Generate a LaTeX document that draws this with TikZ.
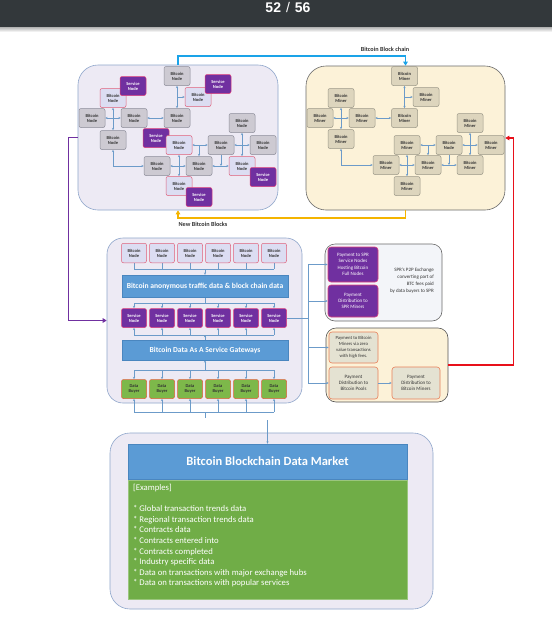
\documentclass[tikz,border=0pt]{standalone}
\usepackage{fontspec}
\setmainfont{Carlito}
\newfontfamily\barfont{Liberation Sans}
\usetikzlibrary{arrows.meta,calc}
\pgfdeclarelayer{back}\pgfdeclarelayer{lines}
\pgfsetlayers{back,lines,main}
\definecolor{lav}{HTML}{EDEAF4}
\definecolor{lavdraw}{HTML}{8FA6CB}
\definecolor{cream}{HTML}{FCF2D8}
\definecolor{darkb}{HTML}{6A6A6A}
\definecolor{gnode}{HTML}{CDCAD2}
\definecolor{gdraw}{HTML}{8C8C99}
\definecolor{pfill}{HTML}{DCDDF2}
\definecolor{pdraw}{HTML}{E0607A}
\definecolor{purp}{HTML}{7030A0}
\definecolor{sdraw}{HTML}{E0407A}
\definecolor{mfill}{HTML}{DDD5BD}
\definecolor{mdraw}{HTML}{9B9888}
\definecolor{cnc}{HTML}{6C9BC9}
\definecolor{bban}{HTML}{5B9BD5}
\definecolor{bbandraw}{HTML}{4A86BF}
\definecolor{grn}{HTML}{70AD47}
\definecolor{dfill}{HTML}{7DB84A}
\definecolor{ddraw}{HTML}{E0603A}
\definecolor{qfill}{HTML}{E4E2D2}
\definecolor{qdraw}{HTML}{E8805A}
\definecolor{sprfill}{HTML}{F3F5F9}
\definecolor{txt}{HTML}{333333}
\definecolor{barc}{HTML}{33383B}
\definecolor{cyanl}{HTML}{1AA3E8}
\definecolor{yell}{HTML}{F4B400}
\definecolor{redl}{HTML}{E8101A}
\begin{document}
\begin{tikzpicture}[x=1pt,y=-1pt,
  >={Stealth[length=2.4pt,width=2.2pt]},
  base/.style={rounded corners=2pt, inner sep=0pt, align=center, line width=0.5pt,
     font=\fontsize{4.5}{5}\selectfont\bfseries, minimum width=26pt, minimum height=19pt},
  bnode/.style={base, fill=gnode, draw=gdraw, text=txt},
  pnode/.style={base, fill=pfill, draw=pdraw, text=txt},
  snode/.style={base, fill=purp, draw=sdraw, text=white},
  mnode/.style={base, fill=mfill, draw=mdraw, text=txt},
  dnode/.style={base, fill=dfill, draw=ddraw, text=txt, minimum width=25pt},
  conn/.style={draw=cnc, line width=0.45pt},
  bigbox/.style={draw, line width=0.6pt, inner sep=0pt},
  banner/.style={fill=bban, draw=bbandraw, line width=0.4pt, text=white, inner sep=0pt,
     font=\fontsize{7.6}{8}\selectfont\bfseries, minimum width=166pt},
  paybox/.style={rounded corners=3pt, inner sep=0pt, align=center, line width=0.6pt,
     font=\fontsize{5}{6.3}\selectfont, minimum width=50pt},
  flow/.style={line width=1.3pt, -{Triangle[length=4pt,width=4.5pt]}},
  lbl/.style={font=\fontsize{6.2}{7}\selectfont\bfseries, text=txt, inner sep=0pt}
]
\useasboundingbox (0,0) rectangle (552,619);
\begin{pgfonlayer}{back}
\fill[white] (0,0) rectangle (552,619);
\end{pgfonlayer}
% top bar
\fill[barc] (0,0) rectangle (552,27);
\shade[top color=gray!60, bottom color=white] (0,27) rectangle (552,32);
\node[text=white, inner sep=0pt, font=\barfont\fontsize{14}{14}\selectfont] (pg) at (288,7.5)
  {\textbf{52}\hspace{5pt}/\hspace{5pt}\textbf{56}};

\begin{pgfonlayer}{back}
\node[bigbox, fill=lav, draw=lavdraw, rounded corners=20pt, minimum width=200pt, minimum height=145pt] (TL) at (178,137.5) {};
\node[bigbox, fill=cream, draw=darkb, rounded corners=20pt, minimum width=199pt, minimum height=144pt] (TR) at (405.5,138) {};
\node[bigbox, fill=lav, draw=lavdraw, rounded corners=16pt, minimum width=195pt, minimum height=165pt] (MID) at (204.5,320.5) {};
\node[bigbox, fill=lav, draw=lavdraw, rounded corners=20pt, minimum width=323pt, minimum height=176pt] (MK) at (271.5,521) {};
\node[bigbox, fill=sprfill, draw=darkb, rounded corners=10pt, minimum width=117pt, minimum height=77pt] (SPR) at (383.5,282.5) {};
\node[bigbox, fill=cream, draw=darkb!80!black, rounded corners=10pt, minimum width=122pt, minimum height=74pt] (PAY) at (387,365) {};
\end{pgfonlayer}

% ---- top-left network
\node[bnode] (A1) at (177,76) {Bitcoin\\Node};
\node[pnode] (A3) at (113,98) {Bitcoin\\Node};
\node[snode] (A2) at (133,86) {Service\\Node};
\node[pnode] (A5) at (198,97) {Bitcoin\\Node};
\node[snode] (A4) at (218,84) {Service\\Node};
\node[bnode] (A6) at (92,118) {Bitcoin\\Node};
\node[bnode] (A7) at (134,118) {Bitcoin\\Node};
\node[bnode] (A8) at (177,118) {Bitcoin\\Node};
\node[bnode] (A9) at (113,140) {Bitcoin\\Node};
\node[snode] (A10) at (156,138) {Service\\Node};
\node[pnode] (A11) at (179,145) {Bitcoin\\Node};
\node[bnode] (A12) at (242,123) {Bitcoin\\Node};
\node[bnode] (A13) at (221,145) {Bitcoin\\Node};
\node[bnode] (A14) at (263,145) {Bitcoin\\Node};
\node[bnode] (A15) at (157,166) {Bitcoin\\Node};
\node[bnode] (A16) at (199,166) {Bitcoin\\Node};
\node[pnode] (A17) at (242,166) {Bitcoin\\Node};
\node[snode] (A18) at (263,177) {Service\\Node};
\node[pnode] (A19) at (179,186) {Bitcoin\\Node};
\node[snode] (A20) at (199,197) {Service\\Node};

% ---- top-right network
\node[mnode] (B1) at (404.5,76) {Bitcoin\\Miner};
\node[mnode] (B2) at (426,97) {Bitcoin\\Miner};
\node[mnode] (B3) at (341,98) {Bitcoin\\Miner};
\node[mnode] (B4) at (320,118) {Bitcoin\\Miner};
\node[mnode] (B5) at (362,118) {Bitcoin\\Miner};
\node[mnode] (B6) at (404.5,118) {Bitcoin\\Miner};
\node[mnode] (B7) at (341,139) {Bitcoin\\Miner};
\node[mnode] (B8) at (407,145) {Bitcoin\\Miner};
\node[mnode] (B9) at (449,145) {Bitcoin\\Node};
\node[mnode] (B10) at (470,123) {Bitcoin\\Miner};
\node[mnode] (B11) at (491,145) {Bitcoin\\Miner};
\node[mnode] (B12) at (386,165) {Bitcoin\\Miner};
\node[mnode] (B13) at (428,165) {Bitcoin\\Miner};
\node[mnode] (B14) at (470,165) {Bitcoin\\Miner};
\node[mnode] (B15) at (407,186) {Bitcoin\\Miner};

\begin{pgfonlayer}{lines}
\draw[conn,<->] (A1) -- (A8);
\draw[conn,->] (A1 |- A5) -- (A5);
\draw[conn,<->] (A3) -- (A9);
\draw[conn,<->] (A6) -- (A7);
\draw[conn,<->] (A7) -- (A8);
\draw[conn,<->] (A9) |- (A15);
\draw[conn,<->] (A11) -- (A19);
\draw[conn,<->] (A15) -- (A16);
\draw[conn,<->] (A11) -- (A13);
\draw[conn,->] (A16 |- A11) -- (A16);
\draw[conn,<->] (A13) -- (A14);
\draw[conn,<->] (A12) -- (A17);
\draw[conn,<->] (A16) -- (A17);
\draw[conn,->] (A13) -- (A13 |- A16);
\draw[conn,<->] (B1) -- (B6);
\draw[conn,->] (B1 |- B2) -- (B2);
\draw[conn,<->] (B3) -- (B7);
\draw[conn,<->] (B4) -- (B5);
\draw[conn,<->] (B5) -- (B6);
\draw[conn,<->] (B7) |- (B12);
\draw[conn,<->] (B8) -- (B15);
\draw[conn,<->] (B12) -- (B13);
\draw[conn,<->] (B8) -- (B9);
\draw[conn,->] (B13 |- B8) -- (B13);
\draw[conn,<->] (B9) -- (B11);
\draw[conn,<->] (B10) -- (B14);
\draw[conn,<->] (B13) -- (B14);
\draw[conn,->] (B9) -- (B9 |- B13);
\end{pgfonlayer}

% ---- flows between networks
\coordinate (bc1) at (178,56);
\coordinate (bc2) at (405.5,56);
\draw[flow, cyanl] (TL.north) -- (bc1) -- (bc2) -- (TR.north);
\coordinate (nb1) at (405.5,218);
\coordinate (nb2) at (178,218);
\draw[flow, yell] (TR.south) -- (nb1) -- (nb2) -- (TL.south);
\node[lbl] (lbc) at (385,49) {Bitcoin Block chain};
\node[lbl] (lnb) at (203,224.5) {New Bitcoin Blocks};
\draw[flow, purp] (TL.west) -- ++(-9,0) |- (MID.west);
\draw[flow, redl, line width=1.5pt] (PAY.east) -- ++(65,0) |- (TR.east);

% ---- middle box
\foreach \i/\x in {1/134,2/162,3/190,4/218,5/246,6/274}{
  \node[pnode, minimum width=25pt, minimum height=19.5pt] (C\i) at (\x,253) {Bitcoin\\Node};
  \node[snode, minimum width=25pt] (S\i) at (\x,318) {Service\\Node};
  \node[dnode] (D\i) at (\x,389) {Data\\Buyer};
}
\node[banner, minimum height=22pt] (BN1) at (205,286) {Bitcoin anonymous traffic data \& block chain data};
\node[banner, minimum height=20pt] (BN2) at (205,350) {Bitcoin Data As A Service Gateways};

\begin{pgfonlayer}{lines}
\coordinate (u1) at (205,269);
\coordinate (u2) at (205,303);
\coordinate (u3) at (205,335);
\coordinate (u4) at (205,370);
\coordinate (u5) at (205,412);
\coordinate (u6) at (205,418);
\draw[conn] (C1 |- u1) -- (C6 |- u1);
\draw[conn] (C1 |- u2) -- (C6 |- u2);
\draw[conn] (C1 |- u3) -- (C6 |- u3);
\draw[conn] (C1 |- u4) -- (C6 |- u4);
\draw[conn] (C1 |- u5) -- (C6 |- u5);
\foreach \i in {1,...,6}{
  \draw[conn] (C\i) -- (C\i |- u1);
  \draw[conn,->] (S\i |- u2) -- (S\i);
  \draw[conn,->] (S\i |- u3) -- (S\i);
  \draw[conn,->] (D\i |- u4) -- (D\i);
  \draw[conn,->] (D\i |- u5) -- (D\i);
}
\draw[conn,->] (u1) -- (BN1);
\draw[conn] (BN1) -- (u2);
\draw[conn,->] (BN2) -- (u3);
\draw[conn,->] (u4) -- (BN2);
\draw[conn] (u5) -- (u6);
\end{pgfonlayer}

% ---- payment boxes
\node[paybox, fill=purp, draw=sdraw, text=white, minimum height=35pt] (P1) at (353,264.5) {Payment to SPR\\Service Nodes\\Hosting Bitcoin\\Full Nodes};
\node[paybox, fill=purp, draw=sdraw, text=white, minimum height=32pt] (P2) at (353,301) {Payment\\Distribution to\\SPR Miners};
\node[inner sep=0pt, align=right, anchor=east, text=txt, font=\fontsize{5}{7}\selectfont] (sprt) at (434,281)
  {SPR's P2P Exchange\\converting part of\\BTC fees paid\\by data buyers to SPR};
\node[paybox, fill=qfill, draw=qdraw, text=txt, minimum width=49pt, minimum height=31pt, font=\fontsize{4.7}{6}\selectfont] (Q1) at (353.5,347.5) {Payment to Bitcoin\\Miners via zero\\value transactions\\with high fees.};
\node[paybox, fill=qfill, draw=qdraw, text=txt, minimum width=49pt, minimum height=32pt] (Q2) at (353.5,383) {Payment\\Distribution to\\Bitcoin Pools};
\node[paybox, fill=qfill, draw=qdraw, text=txt, minimum width=48pt, minimum height=32pt] (Q3) at (416,383) {Payment\\Distribution to\\Bitcoin Miners};
\draw[conn,->] (Q2) -- (Q3);

\coordinate (jx) at (308,318);
\draw[conn] (S6) -- (jx);
\draw[conn] (jx |- P1) -- (jx |- Q2);
\draw[conn,->] (jx |- P1) -- (P1);
\draw[conn,->] (jx |- P2) -- (P2);
\draw[conn,->] (jx |- Q1) -- (Q1);
\draw[conn,->] (jx |- Q2) -- (Q2);

% ---- data market
\node[fill=bban, draw=bbandraw, line width=0.5pt, minimum width=279pt, minimum height=35pt, inner sep=0pt,
  text=white, font=\fontsize{12.5}{13}\selectfont\bfseries] (MB) at (267.5,461.5) {Bitcoin Blockchain Data Market};
\node[fill=grn, draw=grn!70!white, line width=0.5pt, minimum width=279pt, minimum height=119pt, inner sep=0pt] (GP) at (267.5,539.5) {};
\node[anchor=north west, inner sep=0pt, align=left, text=white, font=\fontsize{8.7}{10.6}\selectfont] (GT) at (133,484)
  {[Examples]\\[10.6pt]
   * Global transaction trends data\\
   * Regional transaction trends data\\
   * Contracts data\\
   * Contracts entered into\\
   * Contracts completed\\
   * Industry specific data\\
   * Data on transactions with major exchange hubs\\
   * Data on transactions with popular services};
\coordinate (mk0) at (267.5,420);
\draw[conn, line width=0.6pt, ->] (mk0) -- (MB);
\end{tikzpicture}
\end{document}
